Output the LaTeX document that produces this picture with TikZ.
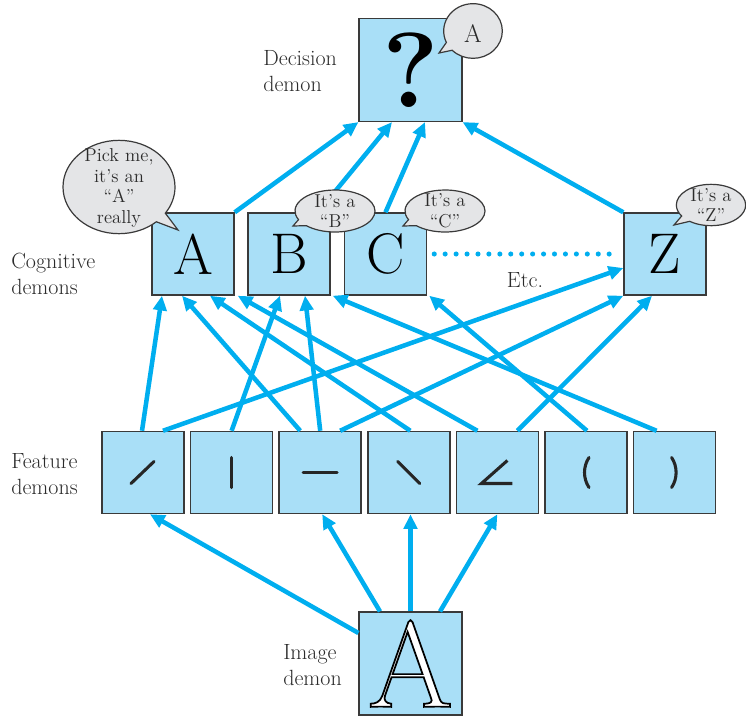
\documentclass[tikz,border=0pt]{standalone}
\usepackage{fontspec}
\usetikzlibrary{arrows.meta,calc,shapes.callouts}

\definecolor{demonblue}{HTML}{A9DFF7}
\definecolor{linkblue}{HTML}{00AEEF}
\definecolor{bubblegray}{HTML}{E4E5E7}
\definecolor{edgegray}{HTML}{3A3A3A}
\definecolor{textgray}{HTML}{2B2B2B}

\tikzset{
  demon/.style={draw=edgegray, line width=1.1pt, fill=demonblue,
    minimum size=61.5pt, inner sep=0pt},
  bigdemon/.style={demon, minimum size=77pt},
  link/.style={draw=linkblue, line width=3.4pt,
    -{Triangle[length=11pt,width=10pt]}},
  speech/.style={ellipse callout, draw=edgegray, fill=bubblegray,
    line width=0.9pt, inner sep=0pt, callout pointer arc=20},
  bubbletext/.style={align=center, inner sep=0pt, text=textgray,
    font=\fontsize{14}{15.5}\selectfont},
  levelname/.style={align=left, inner sep=0pt, anchor=west, text=textgray,
    font=\fontsize{16.5}{20}\selectfont},
  stroke/.style={draw=black!85, line width=2.3pt, line cap=round}
}
\newcommand{\bigletter}{\fontsize{43}{43}\selectfont}
% white letter with a black outline (fill+stroke text mode)
\newcommand{\outlined}[1]{{\color{white}%
  \special{pdf:literal direct 0 0 0 RG 2 Tr 1.3 w}#1%
  \special{pdf:literal direct 0 Tr}}}

\begin{document}
\begin{tikzpicture}[x=0.75pt,y=-0.75pt]
\useasboundingbox (0,0) rectangle (746,715);

% the demons
\node[bigdemon] (dec) at (410.5,70) {\fontsize{80}{80}\selectfont\bfseries ?};

\node[demon] (A) at (193,254) {\bigletter A};
\node[demon] (B) at (289,254) {\bigletter B};
\node[demon] (C) at (385.5,254) {\bigletter C};
\node[demon] (Z) at (665,254) {\bigletter Z};

\node[demon] (f1) at (143,472.5) {};
\node[demon] (f2) at (231.6,472.5) {};
\node[demon] (f3) at (320.2,472.5) {};
\node[demon] (f4) at (408.8,472.5) {};
\node[demon] (f5) at (497.4,472.5) {};
\node[demon] (f6) at (586,472.5) {};
\node[demon] (f7) at (674.6,472.5) {};

\node[bigdemon] (img) at (410.5,663.5)
  {\fontsize{92}{92}\selectfont\outlined{A}};

% image -> features
\draw[link] ($(img.west)+(0,-30.5)$) -- ($(f1.south)+(7,0)$);
\draw[link] ($(img.north)+(-30.5,0)$) -- ($(f3.south)+(2,0)$);
\draw[link] (img.north) -- (img.north |- f4.south);
\draw[link] ($(img.north)+(29.5,0)$) -- (f5.south);

% features -> cognitive demons
\draw[link] ($(f1.north)+(-1,0)$) -- ($(A.south)+(-31,0)$);
\draw[link] ($(f1.north)+(20,0)$) -- ($(Z.west)+(0,14)$);
\draw[link] (f2.north) -- ($(B.south)+(-9,0)$);
\draw[link] ($(f3.north)+(-20,0)$) -- ($(A.south)+(-11,0)$);
\draw[link] (f3.north) -- ($(B.south)+(16,0)$);
\draw[link] ($(f3.north)+(20,0)$) -- (Z.south west);
\draw[link] ($(f4.north)+(1.5,0)$) -- ($(A.south)+(17,0)$);
\draw[link] ($(f5.north)+(-20,0)$) -- ($(A.south east)+(3,0)$);
\draw[link] ($(f5.north)+(20,0)$) -- ($(Z.south)+(-13,0)$);
\draw[link] ($(f6.north)+(1,0)$) -- ($(C.south east)+(2,0)$);
\draw[link] ($(f7.north)+(-18,0)$) -- ($(B.south east)+(2,0)$);

% cognitive demons -> decision
\draw[link] (A.north east) -- (dec.south west);
\draw[link] ($(B.north)+(29,0)$) -- ($(dec.south)+(-18.5,0)$);
\draw[link] (C.north) -- ($(dec.south)+(14.5,0)$);
\draw[link] (Z.north west) -- (dec.south east);

\draw[linkblue, line width=3.8pt, line cap=round, dash pattern=on 0pt off 8.2pt]
  ($(C.east)+(7,0)$) -- ($(Z.west)+(-6,0)$);

% speech bubbles
\node[speech, minimum width=44pt, minimum height=41pt,
  callout absolute pointer={(439,53)}] (bubdec) at (473,31) {};
\node[bubbletext, font=\fontsize{19}{19}\selectfont] at ($(bubdec.center)+(0,3)$) {A};

\node[speech, minimum width=84pt, minimum height=70pt, callout pointer arc=14,
  callout absolute pointer={(178,230)}] (bubA) at (119,187) {};
\node[bubbletext] at ($(bubA.center)+(0,1)$) {Pick me,\\it's an\\``A''\\really};

\node[speech, minimum width=60pt, minimum height=31.5pt,
  callout absolute pointer={(293,226)}] (bubB) at (335,211) {};
\node[bubbletext] at (bubB.center) {It's a\\``B''};

\node[speech, minimum width=60pt, minimum height=31.5pt,
  callout absolute pointer={(403,226)}] (bubC) at (445,211) {};
\node[bubbletext] at (bubC.center) {It's a\\``C''};

\node[speech, minimum width=52pt, minimum height=31pt,
  callout absolute pointer={(674,225)}] (bubZ) at (711,205) {};
\node[bubbletext] at (bubZ.center) {It's a\\``Z''};

% feature strokes
\draw[stroke, shift={(f1.center)}] (-12,11) -- (11,-11);
\draw[stroke, shift={(f2.center)}] (0,-15) -- (0,15);
\draw[stroke, shift={(f3.center)}] (-17,0) -- (17,0);
\draw[stroke, shift={(f4.center)}] (-11,-11) -- (11,11);
\draw[stroke, line join=miter, line cap=butt, shift={(f5.center)}] (10,-12) -- (-16,11) -- (15,11);
\draw[stroke, shift={(f6.center)}] (3,-15) .. controls (-3,-6) and (-3,6) .. (3,15);
\draw[stroke, shift={(f7.center)}] (-3,-15) .. controls (3,-6) and (3,6) .. (-3,15);

% level names
\node[levelname] (decname) at (263,71) {Decision\\demon};
\node[levelname] (cogname) at (11,274) {Cognitive\\demons};
\node[levelname] (featname) at (11,474) {Feature\\demons};
\node[levelname] (imgname) at (283,665) {Image\\demon};
\node[levelname, anchor=center] (etc) at (525,280) {Etc.};
\end{tikzpicture}
\end{document}
